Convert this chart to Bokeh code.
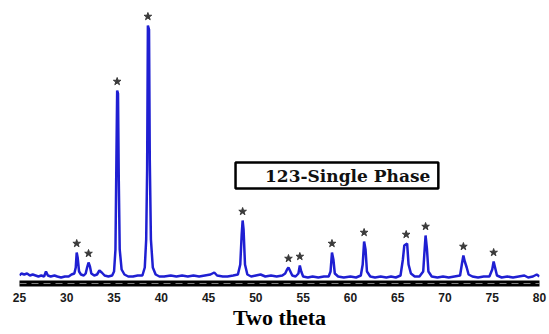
from bokeh.plotting import figure
from bokeh.models import FixedTicker, BoxAnnotation, Label, Span, Range1d
from bokeh.embed import file_html
from bokeh.resources import INLINE

# XRD pattern (2-theta, relative intensity)
two_theta = [25.0, 25.2, 25.5, 25.8, 26.1, 26.4, 26.7, 27.0, 27.3, 27.6, 27.8, 28.0, 28.3, 28.7, 29.0, 29.4,
             29.8, 30.2, 30.5, 30.8, 30.95, 31.05, 31.15, 31.3, 31.5, 31.8, 32.0, 32.15, 32.3, 32.45, 32.6,
             32.9, 33.2, 33.45, 33.7, 34.0, 34.4, 34.8, 35.0, 35.15, 35.25, 35.33, 35.42, 35.5, 35.6, 35.8,
             36.1, 36.5, 37.0, 37.5, 38.0, 38.25, 38.4, 38.5, 38.58, 38.7, 38.78, 38.9, 39.1, 39.4, 39.8,
             40.3, 41.0, 41.6, 42.2, 42.8, 43.4, 44.0, 44.6, 45.2, 45.6, 45.9, 46.5, 47.0, 47.6, 48.1, 48.35,
             48.5, 48.6, 48.7, 48.85, 49.1, 49.5, 50.0, 50.5, 51.0, 51.6, 52.2, 52.8, 53.1, 53.3, 53.45, 53.6,
             53.85, 54.2, 54.5, 54.65, 54.8, 55.0, 55.5, 56.0, 56.6, 57.2, 57.7, 57.9, 58.05, 58.2, 58.35,
             58.7, 59.3, 60.0, 60.6, 61.1, 61.3, 61.45, 61.6, 61.75, 62.1, 62.6, 63.2, 63.8, 64.3, 64.8, 65.3,
             65.55, 65.7, 65.85, 66.0, 66.15, 66.4, 66.8, 67.3, 67.7, 67.85, 67.95, 68.1, 68.25, 68.6, 69.2,
             69.8, 70.4, 71.0, 71.6, 71.8, 71.95, 72.1, 72.3, 72.5, 72.9, 73.5, 74.1, 74.7, 75.0, 75.15, 75.3,
             75.5, 76.0, 76.6, 77.2, 77.8, 78.4, 78.8, 79.3, 79.7, 80.0]
intensity = [4, 6, 5, 6, 4, 5, 4, 3, 4, 3, 8, 4, 3, 4, 3, 2,
             3, 3, 5, 6, 12, 27, 22, 8, 5, 4, 6, 12, 17, 13, 6,
             4, 5, 9, 7, 4, 3, 4, 8, 30, 120, 189, 186, 100, 30, 10,
             5, 3, 3, 4, 4, 12, 40, 110, 254, 250, 120, 40, 12, 5, 3,
             3, 4, 3, 4, 3, 4, 3, 4, 5, 7, 4, 3, 3, 4, 5, 15,
             45, 59, 50, 15, 5, 3, 4, 5, 3, 4, 3, 4, 6, 10, 12, 9,
             4, 3, 6, 14, 8, 3, 2, 3, 2, 3, 3, 8, 27, 20, 6,
             3, 2, 3, 2, 4, 15, 38, 30, 8, 3, 2, 3, 2, 3, 2, 4,
             20, 34, 35, 36, 15, 6, 3, 3, 8, 30, 44, 30, 8, 3, 2,
             3, 2, 3, 4, 16, 24, 18, 12, 5, 3, 2, 3, 3, 10, 18, 12,
             4, 2, 3, 2, 3, 4, 2, 3, 5, 3]

# peaks marked with a star
peak_theta = [31.05, 32.3, 35.33, 38.58, 48.6, 53.45, 54.65, 58.05, 61.45, 65.9, 67.95, 71.95, 75.15]
peak_int = [27, 17, 189, 254, 59, 12, 14, 27, 38, 36, 44, 24, 18]

x_ticks = [25, 30, 35, 40, 45, 50, 55, 60, 65, 70, 75, 80]
box_text = "123-Single Phase"
x_title = "Two theta"

p = figure(width=549, height=334, output_backend="svg", toolbar_location=None,
           x_range=Range1d(25, 80), y_range=Range1d(-4, 279),
           min_border_left=19, min_border_right=10, min_border_top=0, min_border_bottom=51)
p.outline_line_color = None
p.xgrid.visible = False
p.ygrid.visible = False
p.yaxis.visible = False

ax = p.xaxis[0]
ax.ticker = FixedTicker(ticks=x_ticks)
ax.axis_line_width = 6
ax.axis_line_color = "black"
ax.major_tick_line_color = None
ax.minor_tick_line_color = None
ax.major_tick_out = 0
ax.major_tick_in = 0
ax.major_label_standoff = 9
ax.major_label_text_font = "Liberation Sans"
ax.major_label_text_font_style = "bold"
ax.major_label_text_font_size = "12px"
ax.major_label_text_color = "#1a1a1a"
ax.axis_label = x_title
ax.axis_label_standoff = 0
ax.axis_label_text_font = "Liberation Serif"
ax.axis_label_text_font_style = "bold"
ax.axis_label_text_font_size = "22px"
ax.axis_label_text_color = "black"

p.add_layout(Span(location=-4, dimension="width", line_color="white", line_width=1, line_dash="7 5"))

p.line(two_theta, intensity, line_color="#1f1fd2", line_width=2.5)

p.scatter(peak_theta, [v + 9 for v in peak_int], marker="star", size=8,
          fill_color="#3a3a3a", line_color="#3a3a3a")

p.add_layout(BoxAnnotation(left=47.85, right=69.3, bottom=91, top=117,
                           fill_color="white", fill_alpha=1, line_color="black",
                           line_alpha=1, line_width=2.5))
p.add_layout(Label(x=68.45, y=104, text=box_text, text_align="right", text_baseline="middle",
                   text_font="DejaVu Serif", text_font_style="bold", text_font_size="17px",
                   text_color="#111111"))

open("out.html", "w").write(file_html(p, INLINE))
